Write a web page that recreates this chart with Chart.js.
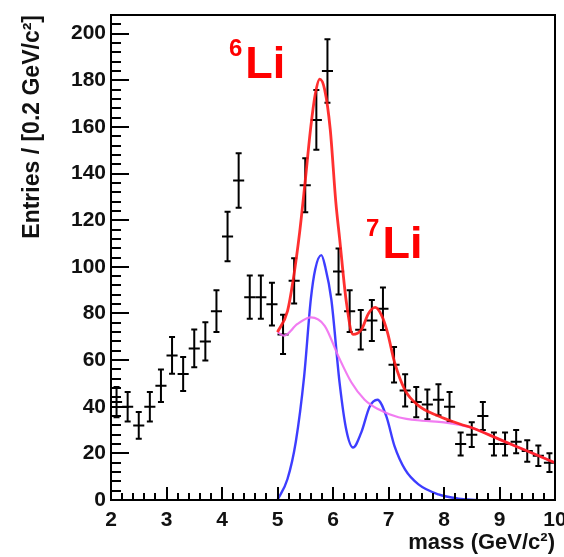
<!DOCTYPE html>
<html><head><meta charset="utf-8">
<script src="https://cdn.jsdelivr.net/npm/chart.js@4/dist/chart.umd.min.js"></script>
<style>html,body{margin:0;padding:0;background:#fff}#wrap{width:564px;height:557px}</style>
</head><body><div id="wrap"><canvas id="c" width="564" height="557"></canvas></div>
<script>
// ---- data ----
const massBins = [2.1,2.3,2.5,2.7,2.9,3.1,3.3,3.5,3.7,3.9,4.1,4.3,4.5,4.7,4.9,5.1,5.3,5.5,5.7,5.9,
                  6.1,6.3,6.5,6.7,6.9,7.1,7.3,7.5,7.7,7.9,8.1,8.3,8.5,8.7,8.9,9.1,9.3,9.5,9.7,9.9];
const entries  = [42,40,32,40,49,62,54,65,68,81,113,137,87,87,84,71,94,135,163,184,
                  98,81,73,77,82,58,47,42,41,43,40,24,28,36,24,24,25,21,19,16];
const entryErr = [6.5,6.3,5.7,6.3,7.0,7.9,7.3,8.1,8.2,9.0,10.6,11.7,9.3,9.3,9.2,8.4,9.7,11.6,12.8,13.6,
                  9.9,9.0,8.5,8.8,9.1,7.6,6.9,6.5,6.4,6.6,6.3,4.9,5.3,6.0,4.9,4.9,5.0,4.6,4.4,4.0];
const binHalfWidth = 0.1;

const totalFitX = [5.0,5.18,5.28,5.4,5.5,5.6,5.68,5.76,5.85,5.95,6.05,6.12,6.24,6.36,6.51,6.64,6.76,6.88,6.98,7.11,7.3,7.54,7.9,8.3,8.5,9.0,9.5,10.0];
const totalFitY = [72,81,94,115,137,160,174,180.5,176,159,128,112,85,71,73,80,82.6,79,72,59,47,40.5,36,32.5,31,26,21,16];

const bkgX = [5.0,5.12,5.36,5.6,5.85,6.09,6.33,6.57,6.81,7.18,7.6,8.0,8.5,9.0,9.5,10.0];
const bkgY = [72,70.5,75.5,78.3,74.7,62,50.5,43,39,35.5,34,33.3,31,26,21,16];

const sigX = [5.0,5.18,5.33,5.48,5.6,5.68,5.79,5.86,5.97,6.12,6.24,6.36,6.51,6.66,6.8,6.96,7.11,7.3,7.54,7.9,8.26,8.6];
const sigY = [0,9,25,53,86,99,105,100,86,50,30,22.5,29,40,43,36,23,13,6.7,2.4,0.6,0];

const xTickMajor = [2,3,4,5,6,7,8,9,10];
const yTickMajor = [0,20,40,60,80,100,120,140,160,180,200];

const labels = [
  {sup:'6', text:'Li', x:4.42, y:181},
  {sup:'7', text:'Li', x:6.89, y:104}
];

const FONT = "'Liberation Sans', Arial, Helvetica, sans-serif";

const decor = {
  id:'decor',
  beforeDatasetsDraw(chart){
    const {ctx, scales:{x,y}} = chart;
    ctx.save();
    ctx.strokeStyle = '#000'; ctx.lineWidth = 2;
    massBins.forEach((m,i)=>{
      const v = entries[i], e = entryErr[i];
      const px = x.getPixelForValue(m), py = y.getPixelForValue(v);
      const xl = x.getPixelForValue(m-binHalfWidth), xr = x.getPixelForValue(m+binHalfWidth);
      const yt = y.getPixelForValue(v+e), yb = y.getPixelForValue(Math.max(0,v-e));
      ctx.beginPath();
      ctx.moveTo(xl,py); ctx.lineTo(xr,py);
      ctx.moveTo(px,yt); ctx.lineTo(px,yb);
      ctx.moveTo(px-3,yt); ctx.lineTo(px+3,yt);
      ctx.moveTo(px-3,yb); ctx.lineTo(px+3,yb);
      ctx.stroke();
    });
    ctx.restore();
  },
  afterDraw(chart){
    const {ctx, chartArea:a, scales:{x,y}} = chart;
    ctx.save();
    ctx.strokeStyle = '#000';
    ctx.lineWidth = 2;
    ctx.beginPath();
    for (let k=0;k<=40;k++){
      const v = 2 + k*0.2;
      const px = Math.round(x.getPixelForValue(v));
      const len = (k%5===0) ? 13 : 7;
      ctx.moveTo(px, a.bottom); ctx.lineTo(px, a.bottom-len);
    }
    for (let k=0;k<=52;k++){
      const v = k*4;
      const py = Math.round(y.getPixelForValue(v));
      const len = (k%5===0) ? 18 : 10;
      ctx.moveTo(a.left, py); ctx.lineTo(a.left+len, py);
    }
    ctx.stroke();
    ctx.lineWidth = 2;
    ctx.strokeRect(a.left, a.top, a.right-a.left, a.bottom-a.top);
    ctx.fillStyle = '#ff0000';
    labels.forEach(l=>{
      const px = x.getPixelForValue(l.x), py = y.getPixelForValue(l.y);
      ctx.font = 'bold 45px ' + FONT;
      ctx.textAlign = 'left'; ctx.textBaseline = 'alphabetic';
      ctx.fillText(l.text, px, py);
      ctx.font = 'bold 24px ' + FONT;
      ctx.textAlign = 'right';
      ctx.fillText(l.sup, px-3, py-22);
    });
    ctx.restore();
  }
};

new Chart(document.getElementById('c'), {
  type:'scatter',
  data:{datasets:[
    {type:'line', data: totalFitX.map((v,i)=>({x:v,y:totalFitY[i]})), borderColor:'rgba(255,25,25,0.9)', borderWidth:2.8, pointRadius:0, cubicInterpolationMode:'monotone', fill:false},
    {type:'line', data: bkgX.map((v,i)=>({x:v,y:bkgY[i]})), borderColor:'rgba(240,110,240,0.9)', borderWidth:2.2, pointRadius:0, cubicInterpolationMode:'monotone', fill:false},
    {type:'line', data: sigX.map((v,i)=>({x:v,y:sigY[i]})), borderColor:'rgba(40,40,255,0.9)', borderWidth:2.4, pointRadius:0, cubicInterpolationMode:'monotone', fill:false},
    {type:'scatter', data: massBins.map((m,i)=>({x:m,y:entries[i]})), pointRadius:0}
  ]},
  options:{
    responsive:false, animation:false, devicePixelRatio:1,
    layout:{padding:{top:15,right:9,left:0,bottom:0}},
    plugins:{legend:{display:false}, tooltip:{enabled:false}},
    scales:{
      x:{type:'linear', min:2, max:10,
        grid:{display:false}, border:{display:false},
        afterBuildTicks(s){ s.ticks = xTickMajor.map(v=>({value:v})); },
        ticks:{padding:0, autoSkip:false, maxRotation:0, color:'#111', font:{family:FONT, size:21, weight:'bold'}},
        title:{display:true, text:'mass (GeV/c²)', align:'end', color:'#111', font:{family:FONT, size:22, weight:'bold'}, padding:{top:0,bottom:1}},
        afterFit(s){ s.height = 57; s.paddingLeft = 0; s.paddingRight = 0; }
      },
      y:{type:'linear', min:0, max:208,
        grid:{display:false}, border:{display:false},
        afterBuildTicks(s){ s.ticks = yTickMajor.map(v=>({value:v})); },
        ticks:{padding:-3, autoSkip:false, color:'#111', font:{family:FONT, size:21, weight:'bold'}},
        title:{display:true, text:'Entries / [0.2 GeV/c²]', align:'end', color:'#111', font:{family:FONT, size:23, weight:'bold'}, padding:{top:19,bottom:0}},
        afterFit(s){ s.width = 111; s.paddingTop = 0; s.paddingBottom = 0; }
      }
    }
  },
  plugins:[decor]
});
</script></body></html>
